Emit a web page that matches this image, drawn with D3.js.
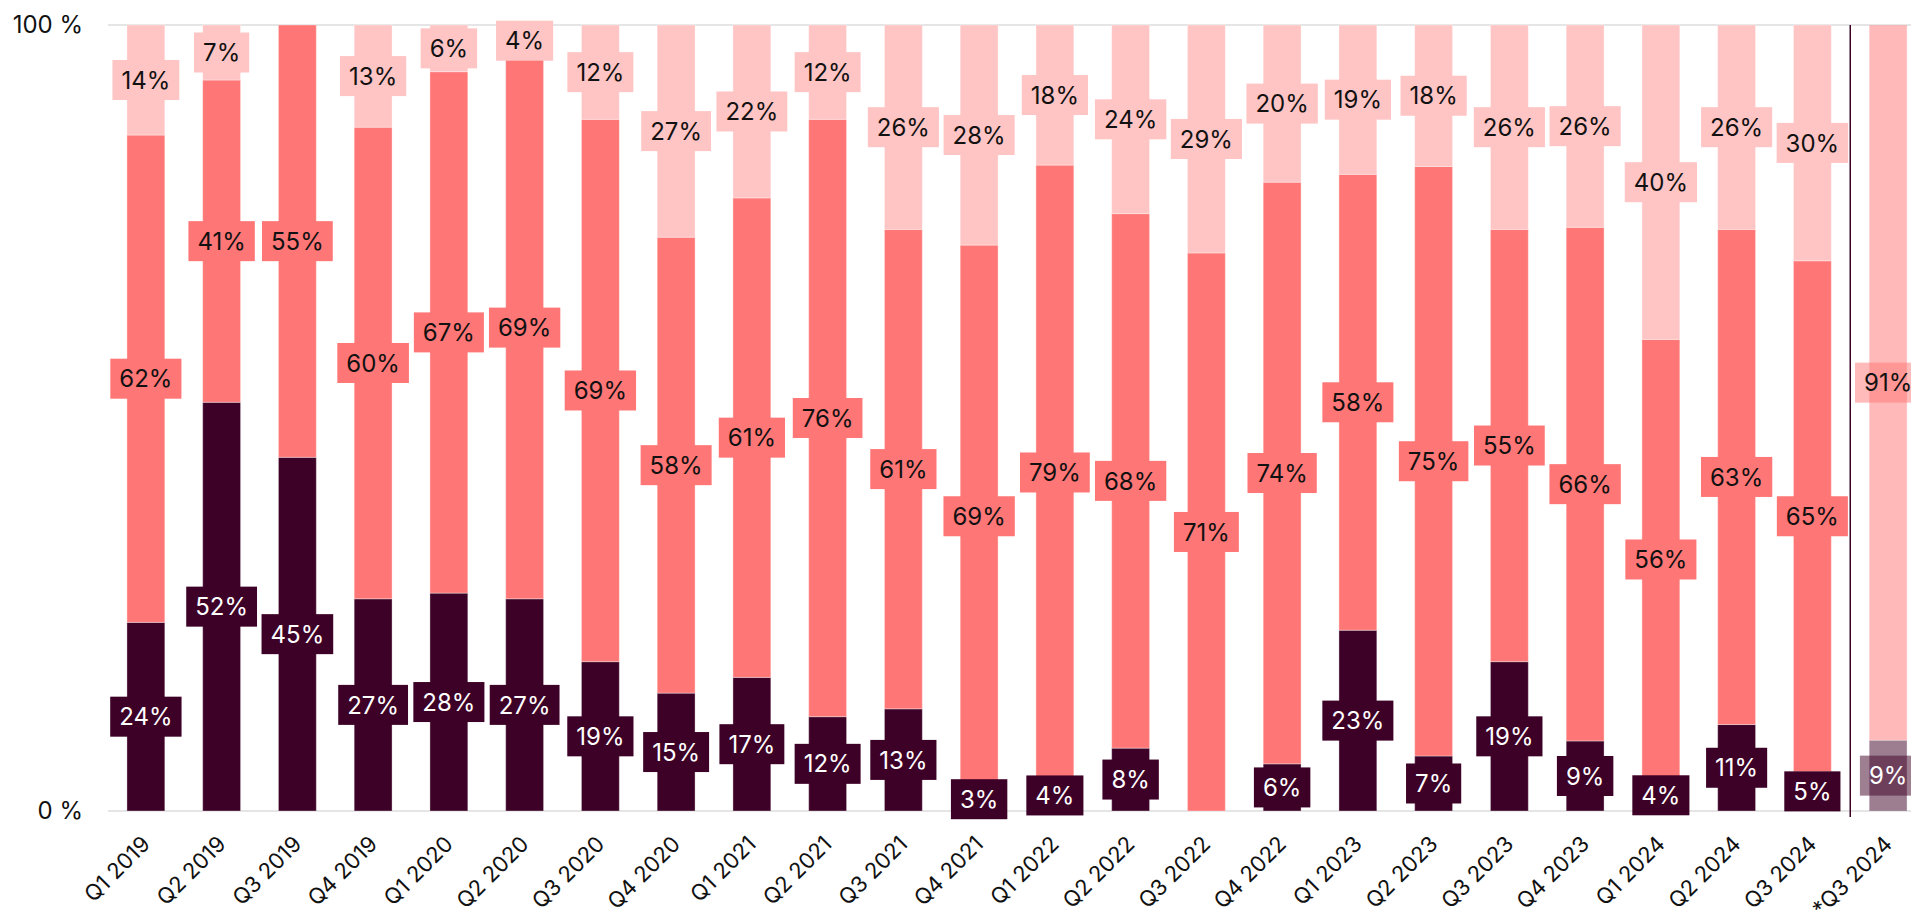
<!DOCTYPE html>
<html>
<head>
<meta charset="utf-8">
<script src="https://cdn.jsdelivr.net/npm/d3@7"></script>
<style>
  html, body { margin: 0; padding: 0; background: #fff; }
  svg { display: block; font-family: Inter, "Noto Sans", sans-serif; }
</style>
</head>
<body>
<svg id="chart" width="1911" height="916"></svg>
<script>
// Quarter categories (the last one is the forecast column)
const categories = ["Q1 2019","Q2 2019","Q3 2019","Q4 2019","Q1 2020","Q2 2020","Q3 2020","Q4 2020",
  "Q1 2021","Q2 2021","Q3 2021","Q4 2021","Q1 2022","Q2 2022","Q3 2022","Q4 2022",
  "Q1 2023","Q2 2023","Q3 2023","Q4 2023","Q1 2024","Q2 2024","Q3 2024","*Q3 2024"];

// Shares per quarter, bottom to top
const seriesLow  = [24,52,45,27,28,27,19,15,17,12,13,3,4,8,0,6,23,7,19,9,4,11,5,9];
const seriesMid  = [62,41,55,60,67,69,69,58,61,76,61,69,79,68,71,74,58,75,55,66,56,63,65,91];
const seriesHigh = [14,7,0,13,6,4,12,27,22,12,26,28,18,24,29,20,19,18,26,26,40,26,30,0];

const yTickLabels = ["0 %", "100 %"];

const seriesKeys = ["low", "mid", "high"];
const fills = { low: "#3d0026", mid: "#ff7676", high: "#ffc4c4" };
const textFills = { low: "#ffffff", mid: "#111111", high: "#111111" };
const forecastCategory = "*Q3 2024";

const rows = categories.map((c, i) => ({
  category: c, low: seriesLow[i], mid: seriesMid[i], high: seriesHigh[i]
}));

const stacked = d3.stack().keys(seriesKeys).offset(d3.stackOffsetExpand)(rows);

const svg = d3.select("#chart");
const plot = { left: 108, right: 1926, top: 25, bottom: 811 };

const x = d3.scaleBand()
  .domain(categories)
  .range([plot.left, plot.right])
  .paddingInner(0.5)
  .paddingOuter(0.25);

const y = d3.scaleLinear().domain([0, 1]).range([plot.bottom, plot.top]);

// Horizontal reference lines at 0 % and 100 %
svg.append("g")
  .selectAll("line")
  .data([0, 1])
  .join("line")
  .attr("x1", plot.left).attr("x2", 1911)
  .attr("y1", d => y(d)).attr("y2", d => y(d))
  .attr("stroke", "#dcdcdc").attr("stroke-width", 1.5);

// Y labels
svg.append("g")
  .selectAll("text")
  .data([0, 1])
  .join("text")
  .attr("x", 83)
  .attr("y", d => y(d))
  .attr("dy", "0.35em")
  .attr("text-anchor", "end")
  .attr("font-size", 24)
  .attr("fill", "#111")
  .text((d, i) => yTickLabels[i]);

// Bars
const layers = svg.append("g")
  .selectAll("g")
  .data(stacked)
  .join("g")
  .attr("fill", d => fills[d.key]);

layers.selectAll("rect")
  .data(d => d.filter(p => p[1] - p[0] > 0))
  .join("rect")
  .attr("x", d => x(d.data.category))
  .attr("width", x.bandwidth())
  .attr("y", d => y(d[1]))
  .attr("height", d => y(d[0]) - y(d[1]))
  .attr("opacity", d => d.data.category === forecastCategory ? 0.5 : 1)
  .attr("stroke", "rgba(255,255,255,0.35)")
  .attr("stroke-width", 1);

// Separator before the forecast column
const sepX = (x("Q3 2024") + x.bandwidth() + x(forecastCategory)) / 2;
svg.append("line")
  .attr("x1", sepX).attr("x2", sepX)
  .attr("y1", plot.top).attr("y2", plot.bottom + 6)
  .attr("stroke", "#3d0026").attr("stroke-width", 1.5);

// Value labels with boxes
const labelG = svg.append("g");
stacked.forEach(layer => {
  layer.forEach(p => {
    const v = p.data[layer.key];
    if (!v) return;
    const isForecast = p.data.category === forecastCategory;
    const cx = x(p.data.category) + x.bandwidth() / 2;
    const cy = y((p[0] + p[1]) / 2);
    const g = labelG.append("g");
    const t = g.append("text")
      .attr("x", cx).attr("y", cy)
      .attr("dy", "0.36em")
      .attr("text-anchor", "middle")
      .attr("font-size", 24)
      .attr("fill", textFills[layer.key])
      .text(v + "%");
    const bb = t.node().getBBox();
    g.insert("rect", "text")
      .attr("x", cx - bb.width / 2 - 9)
      .attr("width", bb.width + 18)
      .attr("y", cy - 20)
      .attr("height", 40)
      .attr("fill", fills[layer.key])
      .attr("opacity", isForecast ? 0.5 : 1);
  });
});

// X axis labels, rotated
svg.append("g")
  .selectAll("text")
  .data(categories)
  .join("text")
  .attr("transform", d => `translate(${x(d) + x.bandwidth() / 2},${plot.bottom + 29}) rotate(-45)`)
  .attr("text-anchor", "end")
  .attr("dy", "0.35em")
  .attr("font-size", 22)
  .attr("fill", "#111")
  .text(d => d);
</script>
</body>
</html>
